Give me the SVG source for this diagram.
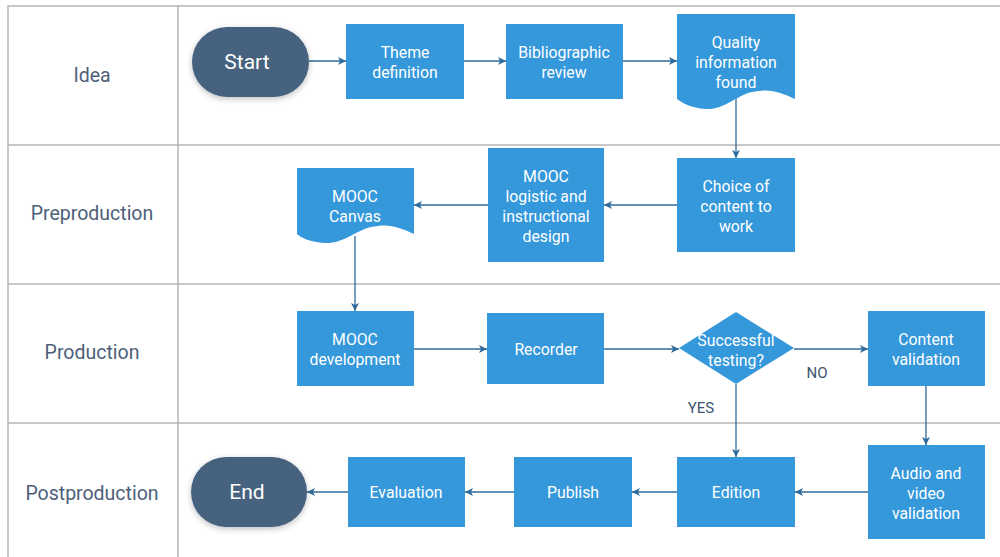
<svg xmlns="http://www.w3.org/2000/svg" width="1000" height="557" viewBox="0 0 1000 557">
<defs>
<marker id="ah" markerWidth="10" markerHeight="10" refX="9" refY="5" orient="auto" markerUnits="userSpaceOnUse">
<path d="M1,1 L9,5 L1,9 L3,5 Z" fill="#2f6b9a"/>
</marker>
<filter id="sh" x="-20%" y="-30%" width="140%" height="160%">
<feGaussianBlur in="SourceAlpha" stdDeviation="3"/>
<feOffset dx="0" dy="2" result="b"/>
<feComponentTransfer><feFuncA type="linear" slope="0.25"/></feComponentTransfer>
<feMerge><feMergeNode/><feMergeNode in="SourceGraphic"/></feMerge>
</filter>
</defs>
<style>
.grid{stroke:#b5b5b5;stroke-width:1.5;fill:none}
.lane{font-family:Roboto,"Liberation Sans",sans-serif;font-size:19.5px;fill:#4d6079;text-anchor:middle}
.box{fill:#3598db}
.term{fill:#47627f}
.t{font-family:Roboto,"Liberation Sans",sans-serif;font-size:15.8px;fill:#ffffff;text-anchor:middle}
.tt{font-family:Roboto,"Liberation Sans",sans-serif;font-size:21px;fill:#ffffff;text-anchor:middle}
.c{stroke:#2f6b9a;stroke-width:1.3;fill:none;marker-end:url(#ah)}
.lbl{font-family:Roboto,"Liberation Sans",sans-serif;font-size:15px;fill:#3c5470;text-anchor:middle}
</style>
<rect width="1000" height="557" fill="#ffffff"/>
<g id="lanes">
<path class="grid" d="M1000,6 H8 V557 M178,6 V557 M8,145 H1000 M8,284 H1000 M8,423 H1000"/>
<text class="lane" x="92" y="82">Idea</text>
<text class="lane" x="92" y="220">Preproduction</text>
<text class="lane" x="92" y="359">Production</text>
<text class="lane" x="92" y="500">Postproduction</text>
</g>
<g id="connectors">
<path class="c" d="M309,61 H346"/>
<path class="c" d="M464,61 H506"/>
<path class="c" d="M623,61 H677"/>
<path class="c" d="M736,98 V158"/>
<path class="c" d="M677,205 H604"/>
<path class="c" d="M488,205 H414"/>
<path class="c" d="M355,236 V311"/>
<path class="c" d="M414,349 H487"/>
<path class="c" d="M604,349 H679"/>
<path class="c" d="M794,349 H868"/>
<path class="c" d="M736,384 V457"/>
<path class="c" d="M926,386 V445"/>
<path class="c" d="M868,492 H795"/>
<path class="c" d="M677,492 H632"/>
<path class="c" d="M514,492 H465"/>
<path class="c" d="M348,492 H307"/>
<text class="lbl" x="817" y="378">NO</text>
<text class="lbl" x="701" y="413">YES</text>
</g>
<g id="start">
<rect class="term" x="192" y="27" width="117" height="70" rx="35" filter="url(#sh)"/>
<text class="tt" x="247" y="69">Start</text>
</g>
<g id="theme">
<rect class="box" x="346" y="24" width="118" height="75"/>
<text class="t" x="405" y="58">Theme</text>
<text class="t" x="405" y="78">definition</text>
</g>
<g id="biblio">
<rect class="box" x="506" y="24" width="117" height="75"/>
<text class="t" x="564" y="58">Bibliographic</text>
<text class="t" x="564" y="78">review</text>
</g>
<g id="quality">
<path class="box" d="M677,14 H795 V99 C780,92 770,88 752,92 C735,96 725,110 705,109 C692,108 682,103 677,99 Z"/>
<text class="t" x="736" y="48">Quality</text>
<text class="t" x="736" y="68">information</text>
<text class="t" x="736" y="88">found</text>
</g>
<g id="choice">
<rect class="box" x="677" y="158" width="118" height="94"/>
<text class="t" x="736" y="192">Choice of</text>
<text class="t" x="736" y="212">content to</text>
<text class="t" x="736" y="232">work</text>
</g>
<g id="logistic">
<rect class="box" x="488" y="148" width="116" height="114"/>
<text class="t" x="546" y="182">MOOC</text>
<text class="t" x="546" y="202">logistic and</text>
<text class="t" x="546" y="222">instructional</text>
<text class="t" x="546" y="242">design</text>
</g>
<g id="canvas">
<path class="box" d="M297,168 H414 V234 C399,227 389,223 371,227 C354,231 344,244 324,243 C311,242 301,238 297,234 Z"/>
<text class="t" x="355" y="202">MOOC</text>
<text class="t" x="355" y="222">Canvas</text>
</g>
<g id="development">
<rect class="box" x="297" y="311" width="117" height="75"/>
<text class="t" x="355" y="345">MOOC</text>
<text class="t" x="355" y="365">development</text>
</g>
<g id="recorder">
<rect class="box" x="487" y="313" width="117" height="71"/>
<text class="t" x="546" y="355">Recorder</text>
</g>
<g id="testing">
<path class="box" d="M736,312 L794,348 L736,384 L679,348 Z"/>
<text class="t" x="736" y="346">Successful</text>
<text class="t" x="736" y="366">testing?</text>
</g>
<g id="content">
<rect class="box" x="868" y="311" width="117" height="75"/>
<text class="t" x="926" y="345">Content</text>
<text class="t" x="926" y="365">validation</text>
</g>
<g id="audio">
<rect class="box" x="868" y="445" width="117" height="94"/>
<text class="t" x="926" y="479">Audio and</text>
<text class="t" x="926" y="499">video</text>
<text class="t" x="926" y="519">validation</text>
</g>
<g id="edition">
<rect class="box" x="677" y="457" width="118" height="70"/>
<text class="t" x="736" y="498">Edition</text>
</g>
<g id="publish">
<rect class="box" x="514" y="457" width="118" height="70"/>
<text class="t" x="573" y="498">Publish</text>
</g>
<g id="evaluation">
<rect class="box" x="348" y="457" width="117" height="70"/>
<text class="t" x="406" y="498">Evaluation</text>
</g>
<g id="end">
<rect class="term" x="191" y="457" width="116" height="70" rx="35" filter="url(#sh)"/>
<text class="tt" x="247" y="499">End</text>
</g>
</svg>
